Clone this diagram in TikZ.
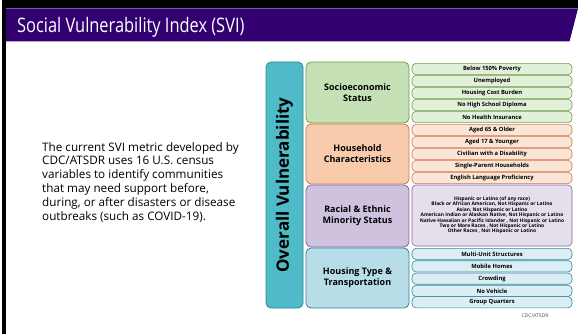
\documentclass[tikz,border=0pt]{standalone}
\usepackage{fontspec}
\setmainfont{Open Sans}
\usepackage{graphicx}

\definecolor{titlepurple}{RGB}{51,0,114}
\definecolor{overallfill}{RGB}{79,187,200}
\definecolor{overallline}{RGB}{49,133,150}
\definecolor{socfill}{RGB}{197,224,180}
\definecolor{socline}{RGB}{106,160,70}
\definecolor{socitem}{RGB}{226,240,217}
\definecolor{housefill}{RGB}{248,203,173}
\definecolor{houseline}{RGB}{205,120,70}
\definecolor{houseitem}{RGB}{251,229,214}
\definecolor{racefill}{RGB}{206,194,222}
\definecolor{raceline}{RGB}{128,100,162}
\definecolor{raceitem}{RGB}{229,223,236}
\definecolor{transfill}{RGB}{183,222,232}
\definecolor{transline}{RGB}{49,133,156}
\definecolor{transitem}{RGB}{218,238,243}

\tikzset{
  catbox/.style={rounded corners=5pt, line width=0.8pt, minimum width=103pt,
    minimum height=60pt, inner sep=0pt, align=center,
    font=\bfseries\fontsize{9}{11}\selectfont},
  itembox/.style={rounded corners=4pt, line width=0.6pt, minimum width=160pt,
    minimum height=11.2pt, inner sep=0pt,
    font=\bfseries\fontsize{5.8}{6}\selectfont},
}

\begin{document}
\begin{tikzpicture}[x=1pt,y=-1pt]

  \useasboundingbox (0,0) rectangle (588,334);

  % frame and title band
  \fill[black] (2,0) rectangle (578,8.5);
  \fill[black] (2,0) rectangle (6,334);
  \fill[titlepurple] (6,8.5) -- (578,8.5) -- (569.5,41.5) -- (6,41.5) -- cycle;
  \node[anchor=base west, text=white, inner sep=0pt] (title) at (17,32.5)
    {\scalebox{0.82}[1]{\fontsize{20}{22}\selectfont Social Vulnerability Index (SVI)}};

  % description
  \node[anchor=north west, inner sep=0pt, align=left,
    font=\fontsize{11.7}{13.9}\selectfont] (intro) at (42,142)
    {The current SVI metric developed by\\
     CDC/ATSDR uses 16 U.S. census\\
     variables to identify communities\\
     that may need support before,\\
     during, or after disasters or disease\\
     outbreaks (such as COVID-19).};

  % overall box
  \node[draw=overallline, fill=overallfill, rounded corners=5pt, line width=0.8pt,
    minimum width=37pt, minimum height=246pt] (overall) at (284.5,185) {};
  \node[rotate=90, font=\bfseries\fontsize{17}{18}\selectfont] (overalltext)
    at (overall.center) {Overall Vulnerability};

  % themes
  \begin{scope}[every node/.style={catbox}]
    \node[draw=socline, fill=socfill, minimum height=61pt] (socio) at (357.5,92.5)
      {Socioeconomic\\Status};
    \node[draw=houseline, fill=housefill] (house) at (357.5,154)
      {Household\\Characteristics};
    \node[draw=raceline, fill=racefill, minimum height=62pt] (race) at (357.5,216)
      {Racial \& Ethnic\\Minority Status};
    \node[draw=transline, fill=transfill] (trans) at (357.5,278)
      {Housing Type \&\\Transportation};
  \end{scope}

  % variables
  \begin{scope}[every node/.style={itembox, draw=socline, fill=socitem}]
    \node (s1) at (492,69) {Below 150\% Poverty};
    \node (s2) at (492,81) {Unemployed};
    \node (s3) at (492,93) {Housing Cost Burden};
    \node (s4) at (492,105) {No High School Diploma};
    \node (s5) at (492,117) {No Health Insurance};
  \end{scope}

  \begin{scope}[every node/.style={itembox, draw=houseline, fill=houseitem}]
    \node (h1) at (492,130) {Aged 65 \& Older};
    \node (h2) at (492,142) {Aged 17 \& Younger};
    \node (h3) at (492,154) {Civilian with a Disability};
    \node (h4) at (492,166) {Single-Parent  Households};
    \node (h5) at (492,178) {English Language Proficiency};
  \end{scope}

  \node[itembox, draw=raceline, fill=raceitem, minimum height=61pt, align=center,
    font=\bfseries\fontsize{4.9}{5.4}\selectfont] (r1) at (492,215.5)
    {Hispanic or Latino (of any race)\\
     Black or African American, Not Hispanic or Latino\\
     Asian, Not Hispanic or Latino\\
     American Indian or Alaskan Native, Not Hispanic or Latino\\
     Native Hawaiian or Pacific Islander , Not Hispanic or Latino\\
     Two or More Races , Not Hispanic or Latino\\
     Other Races , Not Hispanic or Latino};

  \begin{scope}[every node/.style={itembox, draw=transline, fill=transitem}]
    \node (t1) at (492,254) {Multi-Unit Structures};
    \node (t2) at (492,266.3) {Mobile Homes};
    \node (t3) at (492,278.6) {Crowding};
    \node (t4) at (492,290.9) {No Vehicle};
    \node (t5) at (492,302.2) {Group Quarters};
  \end{scope}

  \node[text=black!70, font=\fontsize{5}{6}\selectfont, inner sep=0pt] (source)
    at (535,316) {CDC/ATSDR};

\end{tikzpicture}
\end{document}
